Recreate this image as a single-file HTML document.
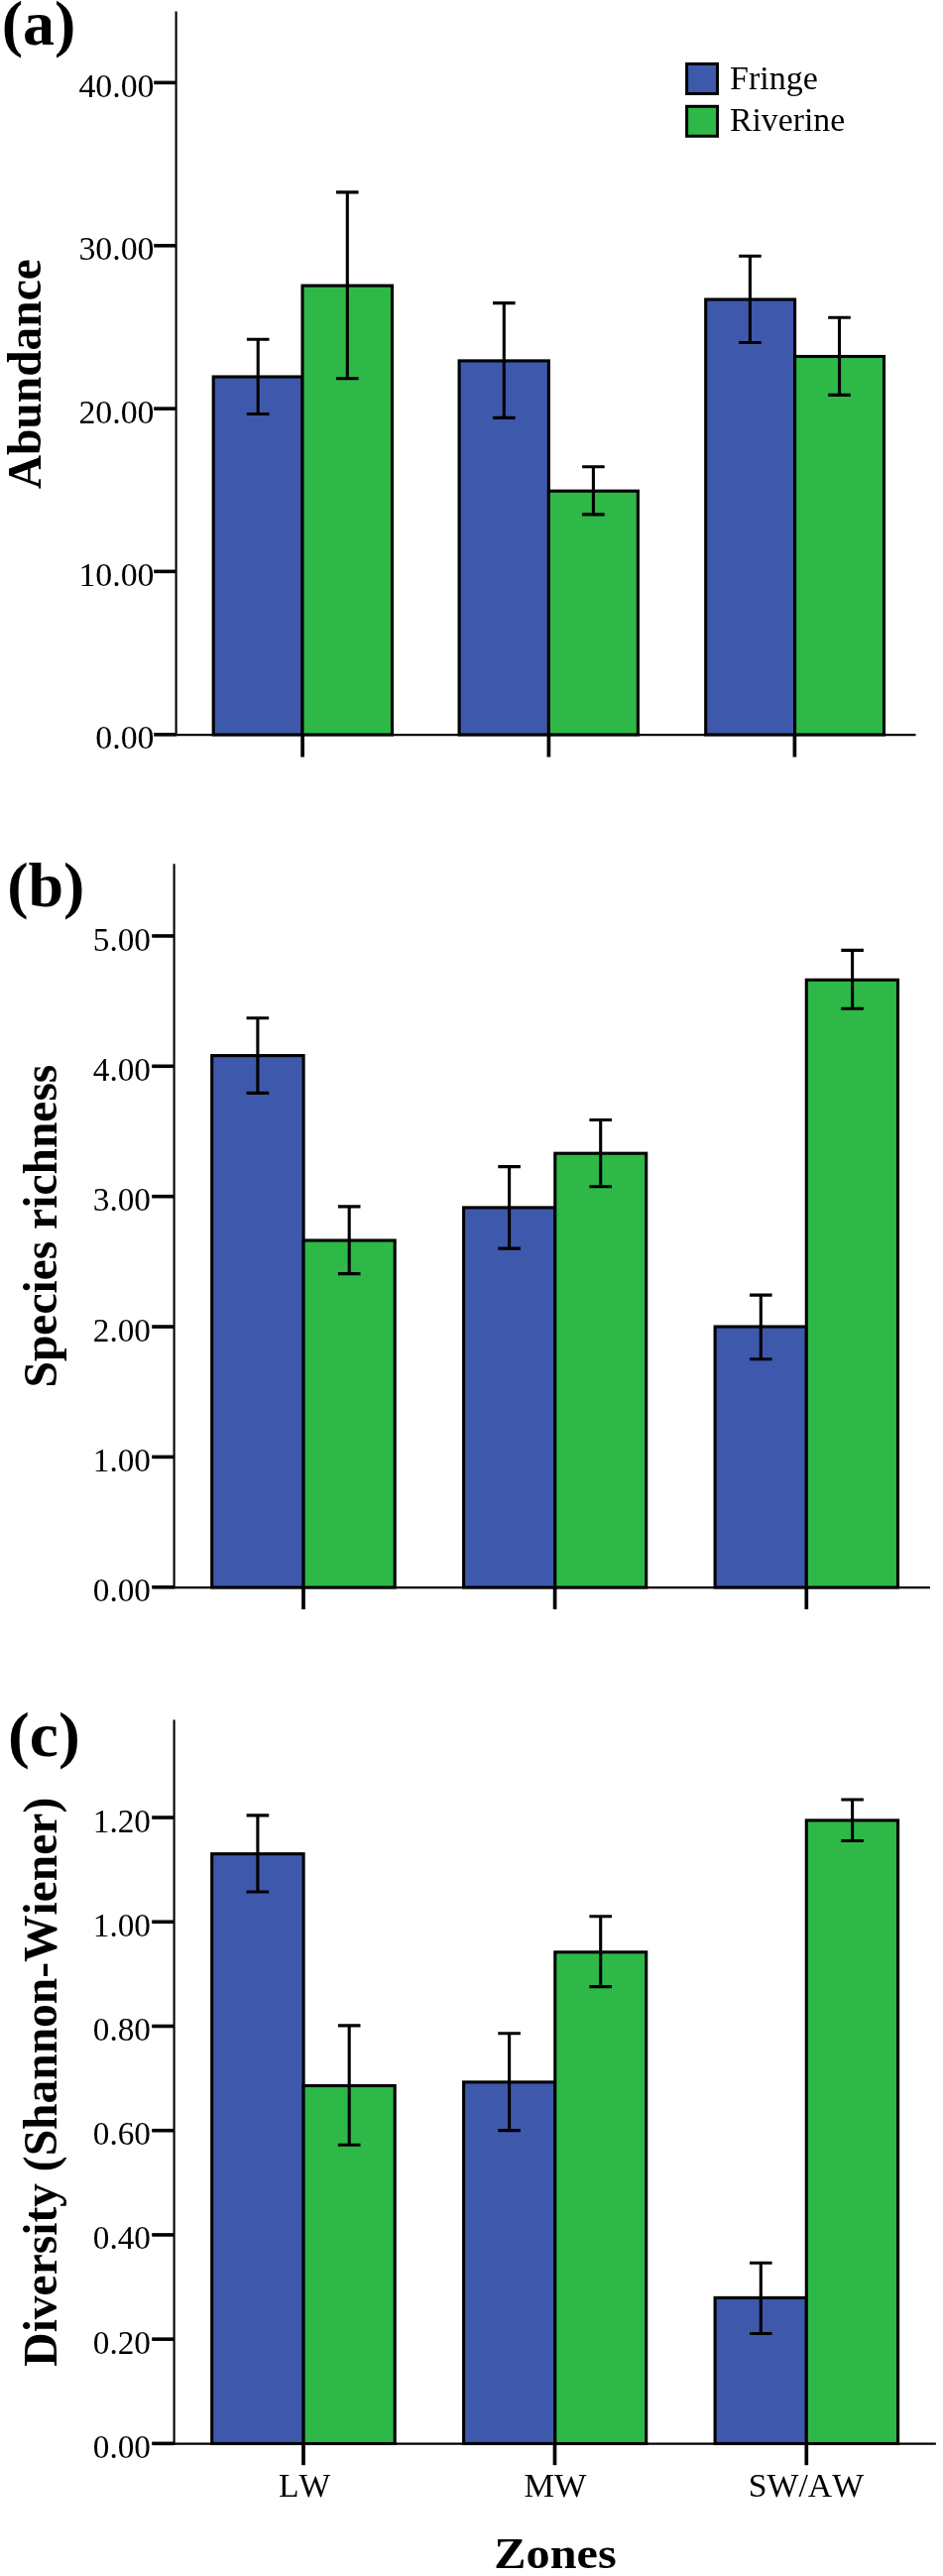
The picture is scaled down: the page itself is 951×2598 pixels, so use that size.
<!DOCTYPE html>
<html><head><meta charset="utf-8"><title>Figure</title>
<style>
html,body{margin:0;padding:0;background:#fff;}
svg{display:block;will-change:transform;}
text{font-family:"Liberation Serif",serif;fill:#000;font-kerning:none;}
.t{font-size:33.6px;}
.b{font-weight:bold;}
.yl{font-size:47.5px;font-weight:bold;}
.pl{font-size:63px;font-weight:bold;}
</style></head><body>
<svg width="951" height="2598" viewBox="0 0 951 2598">
<rect width="951" height="2598" fill="#fff"/>
<g id="pa">
<rect x="215.20" y="380.00" width="89.80" height="361.00" fill="#3E58AC" stroke="#000" stroke-width="3.1"/>
<rect x="305.00" y="288.10" width="90.50" height="452.90" fill="#2EB848" stroke="#000" stroke-width="3.1"/>
<rect x="463.10" y="363.90" width="90.30" height="377.10" fill="#3E58AC" stroke="#000" stroke-width="3.1"/>
<rect x="553.40" y="495.20" width="90.00" height="245.80" fill="#2EB848" stroke="#000" stroke-width="3.1"/>
<rect x="711.70" y="302.00" width="89.90" height="439.00" fill="#3E58AC" stroke="#000" stroke-width="3.1"/>
<rect x="801.60" y="359.50" width="89.90" height="381.50" fill="#2EB848" stroke="#000" stroke-width="3.1"/>
<path d="M260.20 342.30V417.50M248.90 342.30H271.50M248.90 417.50H271.50" fill="none" stroke="#000" stroke-width="3.1"/>
<path d="M350.30 193.90V381.80M339.00 193.90H361.60M339.00 381.80H361.60" fill="none" stroke="#000" stroke-width="3.1"/>
<path d="M508.30 305.60V421.40M497.00 305.60H519.60M497.00 421.40H519.60" fill="none" stroke="#000" stroke-width="3.1"/>
<path d="M598.40 470.80V518.90M587.10 470.80H609.70M587.10 518.90H609.70" fill="none" stroke="#000" stroke-width="3.1"/>
<path d="M756.40 258.20V345.50M745.10 258.20H767.70M745.10 345.50H767.70" fill="none" stroke="#000" stroke-width="3.1"/>
<path d="M846.50 320.30V398.40M835.20 320.30H857.80M835.20 398.40H857.80" fill="none" stroke="#000" stroke-width="3.1"/>
<path d="M177.60 11.50V742.20" stroke="#000" stroke-width="2.1" fill="none"/>
<path d="M176.60 741.20H923.50" stroke="#000" stroke-width="2.3" fill="none"/>
<path d="M155.20 83.35H177.40" stroke="#000" stroke-width="3.6" fill="none"/>
<text class="t" transform="translate(155.50 97.90) scale(1.007 1)" text-anchor="end">40.00</text>
<path d="M155.20 247.75H177.40" stroke="#000" stroke-width="3.6" fill="none"/>
<text class="t" transform="translate(155.50 262.30) scale(1.007 1)" text-anchor="end">30.00</text>
<path d="M155.20 412.15H177.40" stroke="#000" stroke-width="3.6" fill="none"/>
<text class="t" transform="translate(155.50 426.70) scale(1.007 1)" text-anchor="end">20.00</text>
<path d="M155.20 576.35H177.40" stroke="#000" stroke-width="3.6" fill="none"/>
<text class="t" transform="translate(155.50 590.90) scale(1.007 1)" text-anchor="end">10.00</text>
<path d="M155.20 740.85H177.40" stroke="#000" stroke-width="3.6" fill="none"/>
<text class="t" transform="translate(155.50 755.40) scale(1.007 1)" text-anchor="end">0.00</text>
<path d="M305.10 741.00V763.50" stroke="#000" stroke-width="3.7" fill="none"/>
<path d="M553.40 741.00V763.50" stroke="#000" stroke-width="3.7" fill="none"/>
<path d="M801.40 741.00V763.50" stroke="#000" stroke-width="3.7" fill="none"/>
<rect x="692.6" y="64.4" width="30.9" height="30.1" fill="#3E58AC" stroke="#000" stroke-width="3"/>
<rect x="692.6" y="107.3" width="30.9" height="30.0" fill="#2EB848" stroke="#000" stroke-width="3"/>
<text class="t" transform="translate(736.00 89.60) scale(1.012 1)">Fringe</text>
<text class="t" transform="translate(736.00 131.60) scale(1.004 1)">Riverine</text>
<text class="pl" transform="translate(1.80 44.90) scale(1.015 1)">(a)</text>
<text class="yl" transform="translate(41.40 377.20) rotate(-90)" text-anchor="middle" font-size="46.7">Abundance</text>
</g>
<g id="pb">
<rect x="213.70" y="1064.60" width="92.40" height="536.40" fill="#3E58AC" stroke="#000" stroke-width="3.1"/>
<rect x="306.10" y="1251.00" width="92.10" height="350.00" fill="#2EB848" stroke="#000" stroke-width="3.1"/>
<rect x="467.60" y="1217.90" width="92.20" height="383.10" fill="#3E58AC" stroke="#000" stroke-width="3.1"/>
<rect x="559.80" y="1163.20" width="91.90" height="437.80" fill="#2EB848" stroke="#000" stroke-width="3.1"/>
<rect x="721.10" y="1338.00" width="92.20" height="263.00" fill="#3E58AC" stroke="#000" stroke-width="3.1"/>
<rect x="813.30" y="988.30" width="92.20" height="612.70" fill="#2EB848" stroke="#000" stroke-width="3.1"/>
<path d="M259.90 1026.80V1102.40M248.60 1026.80H271.20M248.60 1102.40H271.20" fill="none" stroke="#000" stroke-width="3.1"/>
<path d="M352.20 1216.90V1284.60M340.90 1216.90H363.50M340.90 1284.60H363.50" fill="none" stroke="#000" stroke-width="3.1"/>
<path d="M513.60 1176.60V1259.10M502.30 1176.60H524.90M502.30 1259.10H524.90" fill="none" stroke="#000" stroke-width="3.1"/>
<path d="M605.70 1129.50V1196.70M594.40 1129.50H617.00M594.40 1196.70H617.00" fill="none" stroke="#000" stroke-width="3.1"/>
<path d="M767.30 1306.10V1370.70M756.00 1306.10H778.60M756.00 1370.70H778.60" fill="none" stroke="#000" stroke-width="3.1"/>
<path d="M859.60 958.40V1017.20M848.30 958.40H870.90M848.30 1017.20H870.90" fill="none" stroke="#000" stroke-width="3.1"/>
<path d="M175.60 871.30V1602.20" stroke="#000" stroke-width="2.1" fill="none"/>
<path d="M174.60 1601.20H938.00" stroke="#000" stroke-width="2.3" fill="none"/>
<path d="M153.20 943.95H175.40" stroke="#000" stroke-width="3.6" fill="none"/>
<text class="t" transform="translate(152.00 958.50) scale(0.99 1)" text-anchor="end">5.00</text>
<path d="M153.20 1075.31H175.40" stroke="#000" stroke-width="3.6" fill="none"/>
<text class="t" transform="translate(152.00 1089.86) scale(0.99 1)" text-anchor="end">4.00</text>
<path d="M153.20 1206.67H175.40" stroke="#000" stroke-width="3.6" fill="none"/>
<text class="t" transform="translate(152.00 1221.22) scale(0.99 1)" text-anchor="end">3.00</text>
<path d="M153.20 1338.03H175.40" stroke="#000" stroke-width="3.6" fill="none"/>
<text class="t" transform="translate(152.00 1352.58) scale(0.99 1)" text-anchor="end">2.00</text>
<path d="M153.20 1469.39H175.40" stroke="#000" stroke-width="3.6" fill="none"/>
<text class="t" transform="translate(152.00 1483.94) scale(0.99 1)" text-anchor="end">1.00</text>
<path d="M153.20 1600.75H175.40" stroke="#000" stroke-width="3.6" fill="none"/>
<text class="t" transform="translate(152.00 1615.30) scale(0.99 1)" text-anchor="end">0.00</text>
<path d="M306.00 1601.00V1623.10" stroke="#000" stroke-width="3.7" fill="none"/>
<path d="M559.60 1601.00V1623.10" stroke="#000" stroke-width="3.7" fill="none"/>
<path d="M813.30 1601.00V1623.10" stroke="#000" stroke-width="3.7" fill="none"/>
<text class="pl" transform="translate(7.20 914.20) scale(1.015 1)">(b)</text>
<text class="yl" transform="translate(57.30 1236.60) rotate(-90)" text-anchor="middle" font-size="47.5">Species richness</text>
</g>
<g id="pc">
<rect x="213.70" y="1869.70" width="92.40" height="594.80" fill="#3E58AC" stroke="#000" stroke-width="3.1"/>
<rect x="306.10" y="2103.50" width="92.10" height="361.00" fill="#2EB848" stroke="#000" stroke-width="3.1"/>
<rect x="467.60" y="2099.90" width="92.20" height="364.60" fill="#3E58AC" stroke="#000" stroke-width="3.1"/>
<rect x="559.80" y="1968.80" width="91.90" height="495.70" fill="#2EB848" stroke="#000" stroke-width="3.1"/>
<rect x="721.10" y="2317.40" width="92.20" height="147.10" fill="#3E58AC" stroke="#000" stroke-width="3.1"/>
<rect x="813.30" y="1835.90" width="92.30" height="628.60" fill="#2EB848" stroke="#000" stroke-width="3.1"/>
<path d="M259.90 1830.90V1908.00M248.60 1830.90H271.20M248.60 1908.00H271.20" fill="none" stroke="#000" stroke-width="3.1"/>
<path d="M352.20 2042.90V2163.30M340.90 2042.90H363.50M340.90 2163.30H363.50" fill="none" stroke="#000" stroke-width="3.1"/>
<path d="M513.60 2050.70V2148.60M502.30 2050.70H524.90M502.30 2148.60H524.90" fill="none" stroke="#000" stroke-width="3.1"/>
<path d="M605.70 1932.80V2003.60M594.40 1932.80H617.00M594.40 2003.60H617.00" fill="none" stroke="#000" stroke-width="3.1"/>
<path d="M767.30 2282.20V2353.50M756.00 2282.20H778.60M756.00 2353.50H778.60" fill="none" stroke="#000" stroke-width="3.1"/>
<path d="M859.60 1815.00V1856.50M848.30 1815.00H870.90M848.30 1856.50H870.90" fill="none" stroke="#000" stroke-width="3.1"/>
<path d="M175.60 1734.40V2465.70" stroke="#000" stroke-width="2.1" fill="none"/>
<path d="M174.60 2464.70H943.90" stroke="#000" stroke-width="2.3" fill="none"/>
<path d="M153.20 1833.05H175.40" stroke="#000" stroke-width="3.6" fill="none"/>
<text class="t" transform="translate(152.00 1847.60) scale(0.99 1)" text-anchor="end">1.20</text>
<path d="M153.20 1938.27H175.40" stroke="#000" stroke-width="3.6" fill="none"/>
<text class="t" transform="translate(152.00 1952.82) scale(0.99 1)" text-anchor="end">1.00</text>
<path d="M153.20 2043.49H175.40" stroke="#000" stroke-width="3.6" fill="none"/>
<text class="t" transform="translate(152.00 2058.04) scale(0.99 1)" text-anchor="end">0.80</text>
<path d="M153.20 2148.71H175.40" stroke="#000" stroke-width="3.6" fill="none"/>
<text class="t" transform="translate(152.00 2163.26) scale(0.99 1)" text-anchor="end">0.60</text>
<path d="M153.20 2253.93H175.40" stroke="#000" stroke-width="3.6" fill="none"/>
<text class="t" transform="translate(152.00 2268.48) scale(0.99 1)" text-anchor="end">0.40</text>
<path d="M153.20 2359.15H175.40" stroke="#000" stroke-width="3.6" fill="none"/>
<text class="t" transform="translate(152.00 2373.70) scale(0.99 1)" text-anchor="end">0.20</text>
<path d="M153.20 2464.37H175.40" stroke="#000" stroke-width="3.6" fill="none"/>
<text class="t" transform="translate(152.00 2478.92) scale(0.99 1)" text-anchor="end">0.00</text>
<path d="M306.00 2464.50V2486.20" stroke="#000" stroke-width="3.7" fill="none"/>
<path d="M559.50 2464.50V2486.20" stroke="#000" stroke-width="3.7" fill="none"/>
<path d="M813.30 2464.50V2486.20" stroke="#000" stroke-width="3.7" fill="none"/>
<text class="pl" transform="translate(8.00 1770.80) scale(1.04 1)">(c)</text>
<text class="yl" transform="translate(57.30 2099.70) rotate(-90)" text-anchor="middle" font-size="47.9">Diversity (Shannon-Wiener)</text>
<text class="t" transform="translate(307.20 2518.00)" text-anchor="middle">LW</text>
<text class="t" transform="translate(559.90 2518.00) scale(1.022 1)" text-anchor="middle">MW</text>
<text class="t" transform="translate(812.90 2518.00) scale(1.004 1)" text-anchor="middle">SW/AW</text>
<text class="b" transform="translate(560.00 2590.20) scale(1.08 1)" text-anchor="middle" font-size="44.7">Zones</text>
</g>
</svg></body></html>
